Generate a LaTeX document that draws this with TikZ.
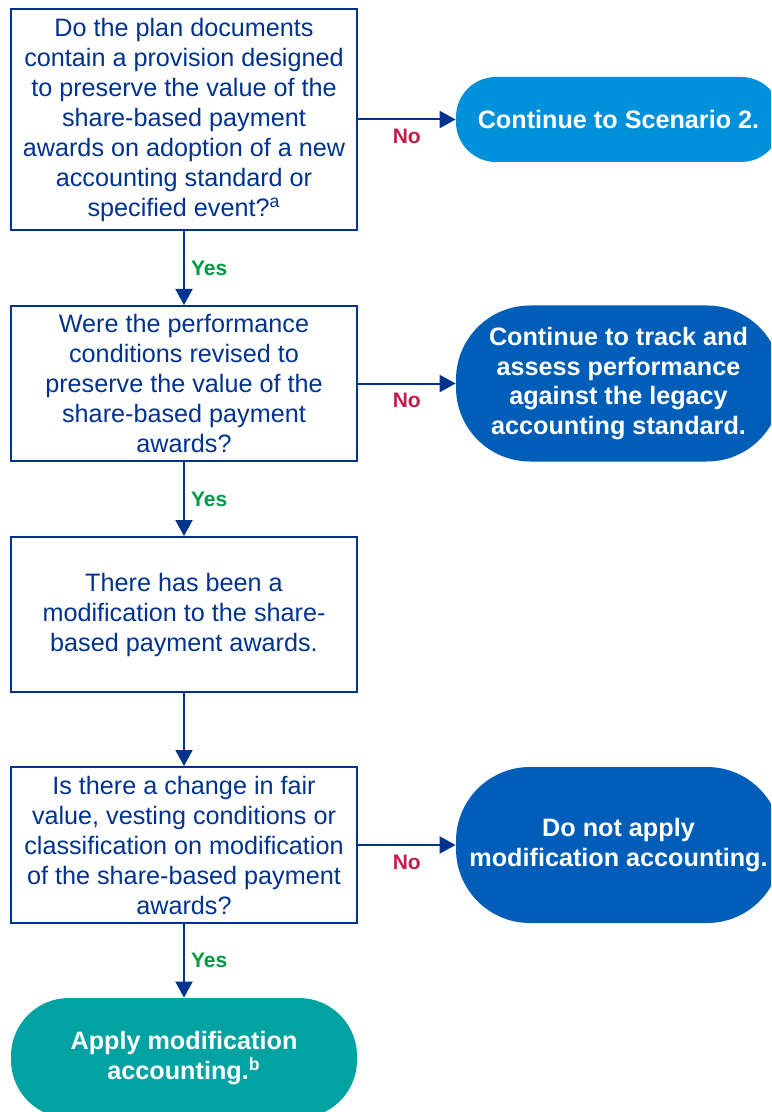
\documentclass[tikz,border=0pt]{standalone}
\usepackage{fontspec}
\setmainfont{Liberation Sans}
\usetikzlibrary{arrows.meta}

\definecolor{kblue}{HTML}{00338D}
\definecolor{klight}{HTML}{0091DA}
\definecolor{kmid}{HTML}{005EB8}
\definecolor{kteal}{HTML}{00A3A1}
\definecolor{kgreen}{HTML}{009A44}
\definecolor{kred}{HTML}{C41D49}

\begin{document}
\begin{tikzpicture}[x=0.5pt,y=-0.5pt,
    question/.style={draw=kblue,line width=1pt,text=kblue,align=center,inner sep=0pt,
        minimum width=173pt,font=\fontsize{12.6}{15}\selectfont},
    outcome/.style={fill=#1,text=white,align=center,inner sep=0pt,
        font=\bfseries\fontsize{12.6}{14.8}\selectfont},
    flow/.style={draw=kblue,line width=1pt,-{Triangle[length=8pt,width=8.5pt]}},
    yes/.style={right,text=kgreen,inner sep=3pt,font=\bfseries\fontsize{10.5}{12}\selectfont},
    no/.style={below,text=kred,inner sep=4.5pt,font=\bfseries\fontsize{10.5}{12}\selectfont}]
                            \useasboundingbox[fill=white] (0,0) rectangle (771,1112);
                            \clip (0,0) rectangle (771,1112);

                            \node[question,minimum height=110.5pt] (plan) at (184,119.5) {Do the plan documents\\contain a provision designed\\to preserve the value of the\\share-based payment\\awards on adoption of a new\\accounting standard or\\specified event?\textsuperscript{a}};
                            \node[question,minimum height=77.5pt] (perf) at (184,383.5) {Were the performance\\conditions revised to\\preserve the value of the\\share-based payment\\awards?};
                            \node[question,minimum height=77.5pt] (modif) at (184,614.5) {There has been a\\modification to the share-\\based payment awards.};
                            \node[question,minimum height=78pt] (change) at (184,845) {Is there a change in fair\\value, vesting conditions or\\classification on modification\\of the share-based payment\\awards?};

                            \node[outcome=klight,minimum width=162.5pt,minimum height=42.5pt,rounded corners=20pt] (scen) at (618.5,119.5) {Continue to Scenario 2.};
                            \node[outcome=kmid,minimum width=162.5pt,minimum height=78pt,rounded corners=37pt] (track) at (618.5,383.5) {Continue to track and\\assess performance\\against the legacy\\accounting standard.};
                            \node[outcome=kmid,minimum width=162.5pt,minimum height=78pt,rounded corners=37pt] (noapply) at (618.5,845) {Do not apply\\modification accounting.};
                            \node[outcome=kteal,minimum width=173pt,minimum height=60pt,rounded corners=29pt] (apply) at (184,1058) {Apply modification\\accounting.\textsuperscript{b}};

                            \draw[flow] (plan) -- node[yes]{Yes} (perf);
                            \draw[flow] (perf) -- node[yes]{Yes} (modif);
                            \draw[flow] (modif) -- (change);
                            \draw[flow] (change) -- node[yes]{Yes} (apply);

                            \draw[flow] (plan) -- node[no]{No} (scen);
                            \draw[flow] (perf) -- node[no]{No} (track);
                            \draw[flow] (change) -- node[no]{No} (noapply);
                    \end{tikzpicture}
\end{document}
